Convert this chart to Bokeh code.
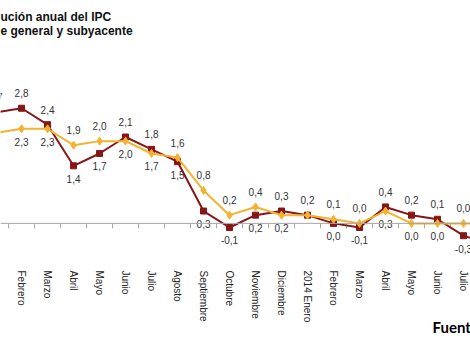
from bokeh.plotting import figure
from bokeh.models import ColumnDataSource, Range1d, FixedTicker, Span, Title
from bokeh.core.properties import value
from bokeh.embed import file_html
from bokeh.resources import INLINE

# ---- data ----
months = ["Enero", "Febrero", "Marzo", "Abril", "Mayo", "Junio", "Julio", "Agosto",
          "Septiembre", "Octubre", "Noviembre", "Diciembre", "2014 Enero", "Febrero",
          "Marzo", "Abril", "Mayo", "Junio", "Julio", "Agosto"]
general = [2.7, 2.8, 2.4, 1.4, 1.7, 2.1, 1.8, 1.5, 0.3, -0.1, 0.2, 0.3, 0.2, 0.0,
           -0.1, 0.4, 0.2, 0.1, -0.3, -0.5]
subyacente = [2.2, 2.3, 2.3, 1.9, 2.0, 2.0, 1.7, 1.6, 0.8, 0.2, 0.4, 0.2, 0.2, 0.1,
              0.0, 0.3, 0.0, 0.0, 0.0, 0.0]

# ---- label placement (style) ----
general_pos = ["above", "above", "above", "below", "below", "above", "above", "below",
               "below", "below", "below", "above", "above", "below", "below", "above",
               "above", "above", "below", "below"]
sub_pos = ["none", "below", "below", "above", "above", "below", "below", "above",
           "above", "above", "above", "below", "none", "above", "above", "below",
           "below", "below", "above", "above"]

RED = "#861618"
YELLOW = "#F4B22E"
GREY = "#a6a6a6"
FONT = "Liberation Sans"
W, H = 470, 340
TOP, BOTTOM = 42, 76
Y0, Y1 = -1, 4.35
TICK_PX = 5

x = list(range(len(months)))

p = figure(width=W, height=H, x_range=Range1d(0.19, 18.27), y_range=Range1d(Y0, Y1),
           output_backend="svg", toolbar_location=None, y_axis_location=None,
           min_border_left=0, min_border_right=0, min_border_top=TOP, min_border_bottom=BOTTOM,
           outline_line_color=None, background_fill_color="white", border_fill_color="white")
p.grid.visible = False

# category labels at the bottom
ax = p.xaxis[0]
ax.ticker = FixedTicker(ticks=x)
ax.major_label_overrides = {i: m for i, m in zip(x, months)}
ax.major_label_orientation = "vertical"
ax.axis_line_color = None
ax.major_tick_line_color = None
ax.minor_tick_line_color = None
ax.major_tick_out = 0
ax.major_label_standoff = 6
ax.major_label_text_font = FONT
ax.major_label_text_font_size = "10px"
ax.major_label_text_color = "#222222"

# zero line with boundary ticks
p.add_layout(Span(location=0, dimension="width", line_color=GREY, line_width=1))
tick_len = TICK_PX * (Y1 - Y0) / (H - TOP - BOTTOM)
bx = [i + 0.5 for i in x]
p.segment(x0=bx, y0=[0] * len(bx), x1=bx, y1=[-tick_len] * len(bx),
          line_color=GREY, line_width=1)

# series
p.line(x, general, color=RED, line_width=2)
p.scatter(x, general, marker="square", size=6, color=RED)
p.line(x, subyacente, color=YELLOW, line_width=2)
p.scatter(x, subyacente, marker="diamond", size=8, color=YELLOW)

def fmt(v):
    return f"{v:.1f}".replace(".", ",")

def label_source(vals, pos):
    xs, ys, ts, dy = [], [], [], []
    for xi, v, ps in zip(x, vals, pos):
        if ps == "none":
            continue
        xs.append(xi); ys.append(v); ts.append(fmt(v))
        dy.append(-15 if ps == "above" else 13)
    return ColumnDataSource(dict(x=xs, y=ys, t=ts, dy=dy))

for vals, pos in ((general, general_pos), (subyacente, sub_pos)):
    src = label_source(vals, pos)
    p.text(x="x", y="y", text="t", y_offset="dy", source=src,
           text_align="center", text_baseline="middle",
           text_font=value(FONT), text_font_size="10px", text_color="#333333")

# title (left part cut off in the reference) and source note
p.title.text = "ución anual del IPC\ne general y subyacente"
p.title.align = "left"
p.title.text_font = FONT
p.title.text_font_size = "12px"
p.title.text_font_style = "bold"
p.title.text_color = "#111111"
p.title.text_line_height = 1.0
p.title.standoff = 14
p.title.offset = 0

fu = Title(text="Fuente", align="left", offset=432, text_font="Lato",
           text_font_size="15px", text_font_style="bold", text_color="#000000",
           standoff=-19)
p.add_layout(fu, "below")

open("out.html", "w").write(file_html(p, INLINE))
